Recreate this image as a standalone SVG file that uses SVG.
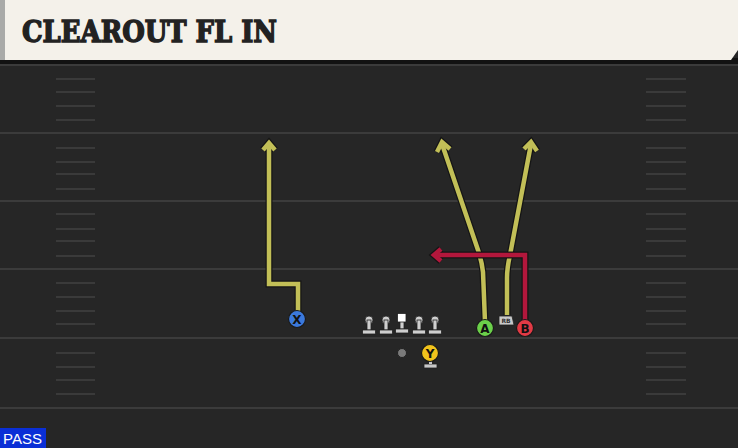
<svg xmlns="http://www.w3.org/2000/svg" width="738" height="448" viewBox="0 0 738 448">
<defs>
<style>
.yard{stroke:#3b3b3b;stroke-width:2}
.hash{stroke:#3a3a3a;stroke-width:2}
.out{fill:none;stroke:#151515;stroke-width:7;stroke-linejoin:miter;stroke-linecap:butt}
.ry{fill:none;stroke:#c2bf57;stroke-width:4.5;stroke-linejoin:miter;stroke-linecap:butt}
.rr{fill:none;stroke:#b3173c;stroke-width:4.5;stroke-linejoin:miter;stroke-linecap:butt}
.lbl{font-family:"DejaVu Sans","Liberation Sans",sans-serif;font-weight:bold;font-size:12px;fill:#111;text-anchor:middle}
.ol{fill:#cfcfcf;stroke:#222;stroke-width:0.8}
</style>
</defs>
<rect x="0" y="0" width="738" height="448" fill="#262626"/>
<!-- header -->
<rect x="0" y="58" width="738" height="6" fill="#121212"/>
<path d="M0 0 H738 V50 L731 60 H0 Z" fill="#f4f1ea"/>
<rect x="0" y="0" width="5" height="60" fill="#a9aaa8"/>
<text x="22" y="42" font-family="'DejaVu Serif','Liberation Serif',serif" font-weight="bold" font-size="29" fill="#222" stroke="#222" stroke-width="1.4" textLength="255" lengthAdjust="spacingAndGlyphs">CLEAROUT FL IN</text>
<!-- field lines -->
<g id="field">
<line class="yard" x1="0" y1="65" x2="738" y2="65"/>
<line class="yard" x1="0" y1="133" x2="738" y2="133"/>
<line class="yard" x1="0" y1="201" x2="738" y2="201"/>
<line class="yard" x1="0" y1="269" x2="738" y2="269"/>
<line class="yard" x1="0" y1="338" x2="738" y2="338"/>
<line class="yard" x1="0" y1="408" x2="738" y2="408"/>
<g class="hash">
<line x1="56" y1="79" x2="95" y2="79"/><line x1="56" y1="92" x2="95" y2="92"/><line x1="56" y1="106" x2="95" y2="106"/><line x1="56" y1="120" x2="95" y2="120"/>
<line x1="56" y1="148" x2="95" y2="148"/><line x1="56" y1="162" x2="95" y2="162"/><line x1="56" y1="174" x2="95" y2="174"/><line x1="56" y1="189" x2="95" y2="189"/>
<line x1="56" y1="214" x2="95" y2="214"/><line x1="56" y1="229" x2="95" y2="229"/><line x1="56" y1="241" x2="95" y2="241"/><line x1="56" y1="256" x2="95" y2="256"/>
<line x1="56" y1="283" x2="95" y2="283"/><line x1="56" y1="297" x2="95" y2="297"/><line x1="56" y1="311" x2="95" y2="311"/><line x1="56" y1="324" x2="95" y2="324"/>
<line x1="56" y1="353" x2="95" y2="353"/><line x1="56" y1="367" x2="95" y2="367"/><line x1="56" y1="380" x2="95" y2="380"/><line x1="56" y1="394" x2="95" y2="394"/>
<line x1="646" y1="79" x2="686" y2="79"/><line x1="646" y1="92" x2="686" y2="92"/><line x1="646" y1="106" x2="686" y2="106"/><line x1="646" y1="120" x2="686" y2="120"/>
<line x1="646" y1="148" x2="686" y2="148"/><line x1="646" y1="162" x2="686" y2="162"/><line x1="646" y1="174" x2="686" y2="174"/><line x1="646" y1="189" x2="686" y2="189"/>
<line x1="646" y1="214" x2="686" y2="214"/><line x1="646" y1="229" x2="686" y2="229"/><line x1="646" y1="241" x2="686" y2="241"/><line x1="646" y1="256" x2="686" y2="256"/>
<line x1="646" y1="283" x2="686" y2="283"/><line x1="646" y1="297" x2="686" y2="297"/><line x1="646" y1="311" x2="686" y2="311"/><line x1="646" y1="324" x2="686" y2="324"/>
<line x1="646" y1="353" x2="686" y2="353"/><line x1="646" y1="367" x2="686" y2="367"/><line x1="646" y1="380" x2="686" y2="380"/><line x1="646" y1="394" x2="686" y2="394"/>
</g>
</g>
<!-- connectors -->
<g id="routes">
<path class="out" d="M298 313 V284 H269 V144"/>
<path class="out" d="M263 150 L269 143 L275 150"/>
<path class="ry" d="M298 313 V284 H269 V144"/>
<path class="ry" d="M263 150 L269 143 L275 150"/>
<path class="out" d="M485 322 L483 272 Q482 262 478 250 L442 144"/>
<path class="out" d="M437 152 L442 142 L450 149"/>
<path class="ry" d="M485 322 L483 272 Q482 262 478 250 L442 144"/>
<path class="ry" d="M437 152 L442 142 L450 149"/>
<path class="out" d="M507 315 V278 Q507 268 510 255 L531 144"/>
<path class="out" d="M524 149 L531 142 L537 151"/>
<path class="ry" d="M507 315 V278 Q507 268 510 255 L531 144"/>
<path class="ry" d="M524 149 L531 142 L537 151"/>
<path class="out" d="M525 321 V255 H434"/>
<path class="out" d="M441 249 L434 255 L441 261"/>
<path class="rr" d="M525 321 V255 H434"/>
<path class="rr" d="M441 249 L434 255 L441 261"/>
</g>
<!-- linemen -->
<g id="line">
<g class="ol">
<circle cx="369" cy="320" r="4"/><rect x="367" y="320" width="4" height="10"/><rect x="362.5" y="330" width="13" height="4"/>
<circle cx="386" cy="320" r="4"/><rect x="384" y="320" width="4" height="10"/><rect x="379.5" y="330" width="13" height="4"/>
<circle cx="419" cy="320" r="4"/><rect x="417" y="320" width="4" height="10"/><rect x="412.5" y="330" width="13" height="4"/>
<circle cx="435" cy="320" r="4"/><rect x="433" y="320" width="4" height="10"/><rect x="428.5" y="330" width="13" height="4"/>
<rect x="400" y="321" width="4" height="8"/><rect x="395.5" y="329" width="13" height="4"/>
</g>
<rect id="center" x="397.5" y="313.5" width="8.5" height="8.5" fill="#ffffff" stroke="#222" stroke-width="0.8"/>
</g>
<g id="qb"><circle cx="402" cy="353" r="4.5" fill="#7a7a7a" stroke="#222" stroke-width="1"/></g>
<g id="player-x">
<circle cx="297" cy="319" r="8.5" fill="#3b79dc" stroke="#1a1a1a" stroke-width="1.2"/>
<text class="lbl" x="297" y="323.5">X</text>
</g>
<g id="player-y">
<rect x="424" y="364" width="13" height="4" fill="#c8c8c8" stroke="#222" stroke-width="0.8"/>
<rect x="429" y="359" width="3" height="5" fill="#c8c8c8"/>
<circle cx="430" cy="353" r="8.5" fill="#f1c31c" stroke="#1a1a1a" stroke-width="1.2"/>
<text class="lbl" x="430" y="357.5">Y</text>
</g>
<g id="player-a">
<circle cx="485" cy="328" r="8.5" fill="#6bd04a" stroke="#1a1a1a" stroke-width="1.2"/>
<text class="lbl" x="485" y="332.5">A</text>
</g>
<g id="player-rb">
<path d="M499 316 H512 L514 325 H499 Z" fill="#c9c9c9" stroke="#222" stroke-width="0.8"/>
<text x="506" y="323" font-family="'DejaVu Sans',sans-serif" font-size="6" font-weight="bold" fill="#333" text-anchor="middle">RB</text>
</g>
<g id="player-b">
<circle cx="525" cy="328" r="8.5" fill="#e23a45" stroke="#1a1a1a" stroke-width="1.2"/>
<text class="lbl" x="525" y="332.5">B</text>
</g>
<g id="pass">
<rect x="0" y="428" width="46" height="20" fill="#0a2fd6"/>
<text x="3" y="444" font-family="'Liberation Sans',Arial,sans-serif" font-size="15" fill="#ffffff" textLength="39" lengthAdjust="spacingAndGlyphs">PASS</text>
</g>
</svg>
